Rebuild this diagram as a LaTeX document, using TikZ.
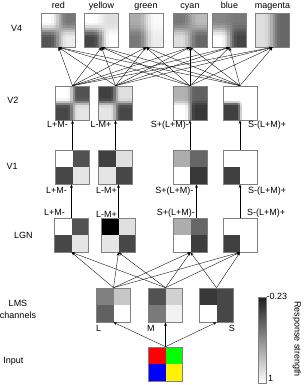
\documentclass[tikz,border=0pt]{standalone}
\usepackage{fontspec}
\setmainfont{Liberation Sans}
\usetikzlibrary{arrows.meta,positioning}

% 2x2 patch with sharp quadrants: name, centre, tl, tr, bl, br
\newcommand{\quadbox}[6]{%
  \begin{scope}[shift={(#2)}]
    \fill[#3] (-17,-17) rectangle (0,0);
    \fill[#4] (0,-17) rectangle (17,0);
    \fill[#5] (-17,0) rectangle (0,17);
    \fill[#6] (0,0) rectangle (17,17);
  \end{scope}
  \node[pbox] (#1) at (#2) {};}

% 2x2 patch with soft edges: name, centre, blur, tl, tr, bl, br (black %)
\newcommand{\blurbox}[7]{%
  \begin{scope}[shift={(#2)}]
    \clip (-17,-17) rectangle (17,17);
    \foreach \i in {0,...,13}{\foreach \j in {0,...,13}{
      \pgfmathsetmacro{\wx}{max(0,min(1,((\i+0.5)/14-0.5)/#3+0.5))}
      \pgfmathsetmacro{\wy}{max(0,min(1,((\j+0.5)/14-0.5)/#3+0.5))}
      \pgfmathsetmacro{\wx}{\wx*\wx*(3-2*\wx)}
      \pgfmathsetmacro{\wy}{\wy*\wy*(3-2*\wy)}
      \pgfmathsetmacro{\gv}{(1-\wy)*((1-\wx)*#4+\wx*#5)+\wy*((1-\wx)*#6+\wx*#7)}
      \fill[black!\gv] (-17+\i*34/14,-17+\j*34/14) rectangle ++(2.8,2.8);
    }}
  \end{scope}
  \node[pbox] (#1) at (#2) {};}

\begin{document}
\begin{tikzpicture}[x=1pt,y=-1pt,
lab/.style={font=\fontsize{9}{12}\selectfont,inner sep=0pt,align=center},
pbox/.style={draw=black!50,line width=0.6pt,minimum size=34pt,inner sep=0pt},
arr/.style={-{Stealth[length=3.5pt,width=2.6pt]},line width=0.35pt}
]
\useasboundingbox (0,0) rectangle (303,385);

% row names
\node[lab] (nv4) at (16.7,28.5) {V4};
\node[lab] (nv2) at (12.8,100) {V2};
\node[lab] (nv1) at (12.2,166.5) {V1};
\node[lab] (nlgn) at (23.3,235.5) {LGN};
\node[lab] (nlms) at (18,309) {LMS\\channels};
\node[lab] (ninp) at (13.3,361.5) {Input};

% V4
\blurbox{vred}{58.5,30}{0.5}{0}{53}{67}{7}
\blurbox{vyel}{101.5,30}{0.5}{0}{13}{73}{0}
\blurbox{vgrn}{146,30}{0.5}{33}{2}{53}{7}
\blurbox{vcyn}{190,30}{0.5}{53}{27}{13}{60}
\blurbox{vblu}{229.5,30}{0.5}{47}{53}{0}{73}
\blurbox{vmag}{272.5,30}{0.5}{13}{60}{13}{60}
\node[lab,anchor=base] (tred) at (58.5,8.7) {red};
\node[lab,anchor=base] (tyel) at (101.5,8.7) {yellow};
\node[lab,anchor=base] (tgrn) at (146,8.7) {green};
\node[lab,anchor=base] (tcyn) at (190,8.7) {cyan};
\node[lab,anchor=base] (tblu) at (229.5,8.7) {blue};
\node[lab,anchor=base] (tmag) at (272.5,8.7) {magenta};

% V2
\blurbox{v2a}{72.5,103}{0.3}{0}{68}{72}{10}
\blurbox{v2b}{115.5,103}{0.3}{75}{12}{10}{72}
\blurbox{v2c}{190,103}{0.3}{30}{62}{0}{78}
\blurbox{v2d}{240,103}{0.2}{0}{0}{75}{0}
\node[lab,anchor=base east] (t2a) at (68,127.5) {L+M-};
\node[lab,anchor=base east] (t2b) at (111.5,127.5) {L-M+};
\node[lab,anchor=base east] (t2c) at (189,127.5) {S+(L+M)-};
\node[lab,anchor=base west] (t2d) at (248,127.5) {S-(L+M)+};

% V1
\quadbox{v1a}{72.5,167}{white}{black!68}{black!72}{black!10}
\quadbox{v1b}{115.5,167}{black!75}{black!12}{black!10}{black!72}
\quadbox{v1c}{190,167}{black!32}{black!60}{white}{black!78}
\quadbox{v1d}{240,167}{white}{white}{black!75}{white}
\node[lab,anchor=base east] (t1a) at (67,193) {L+M-};
\node[lab,anchor=base east] (t1b) at (117,193) {L-M+};
\node[lab,anchor=base east] (t1c) at (193.5,193) {S+(L+M)-};
\node[lab,anchor=base west] (t1d) at (248,193) {S-(L+M)+};

% LGN
\quadbox{lgna}{71.5,235}{white}{black!68}{black!72}{black!10}
\quadbox{lgnb}{118.5,235}{black}{black!12}{black!10}{black!72}
\quadbox{lgnc}{190.5,235}{black!32}{black!60}{white}{black!76}
\quadbox{lgnd}{240,235}{white}{white}{black!75}{white}
\node[lab,anchor=base east] (tga) at (65,215.5) {L+M-};
\node[lab,anchor=base east] (tgb) at (117,217.5) {L-M+};
\node[lab,anchor=base east] (tgc) at (195,215.5) {S+(L+M)-};
\node[lab,anchor=base west] (tgd) at (247,215.5) {S-(L+M)+};

% LMS channels
\quadbox{lcone}{113.5,305}{black!50}{black!22}{black!62}{white}
\quadbox{mcone}{165.5,305}{black!68}{black!18}{black!52}{black!5}
\quadbox{scone}{216.5,305}{black!78}{black!72}{white}{black!72}
\node[lab,anchor=base west] (tl) at (96,331) {L};
\node[lab,anchor=base west] (tm) at (147,331) {M};
\node[lab,anchor=base east] (ts) at (235,331) {S};

% input
\quadbox{inp}{165.5,364}{red}{green}{blue}{yellow}

% colour bar
\node[draw=black!50,line width=0.6pt,minimum width=8pt,minimum height=86pt,
inner sep=0pt,top color=black!88,bottom color=white] (cbar) at (262,340) {};
\node[lab,anchor=west] (cmin) at (266.5,296) {-0.23};
\node[lab,anchor=west] (cmax) at (268,378) {1};
\node[lab,rotate=-90] (resp) at (297,339) {Response strength};

% connections
\foreach \s in {v2a,v2b,v2c,v2d}
  \foreach \t in {vred,vyel,vgrn,vcyn,vblu,vmag}
    \draw[arr] (\s.north) -- (\t.south);
\draw[arr] (v1a.north) -- (v2a.south);
\draw[arr] (v1b.north) -- (v2b.south);
\draw[arr] (v1c.north) -- (v2c.south);
\draw[arr] (v1d.north) -- (v2d.south);
\draw[arr] (lgna.north) -- (lgna.north |- v1a.south);
\draw[arr] (lgnb.north) -- (lgnb.north |- v1b.south);
\draw[arr] ([xshift=6pt]lgnc.north) -- ([xshift=6pt]lgnc.north |- v1c.south);
\draw[arr] (lgnd.north) -- (lgnd.north |- v1d.south);
\foreach \s in {lcone,mcone}
  \foreach \t in {lgna,lgnb,lgnc,lgnd}
    \draw[arr] (\s.north) -- (\t.south);
\draw[arr] (scone.north) -- (lgnc.south);
\draw[arr] (scone.north) -- (lgnd.south);
\draw[arr] (inp.north) -- (lcone.south);
\draw[arr] (inp.north) -- (mcone.south);
\draw[arr] (inp.north) -- (scone.south);
\end{tikzpicture}
\end{document}
